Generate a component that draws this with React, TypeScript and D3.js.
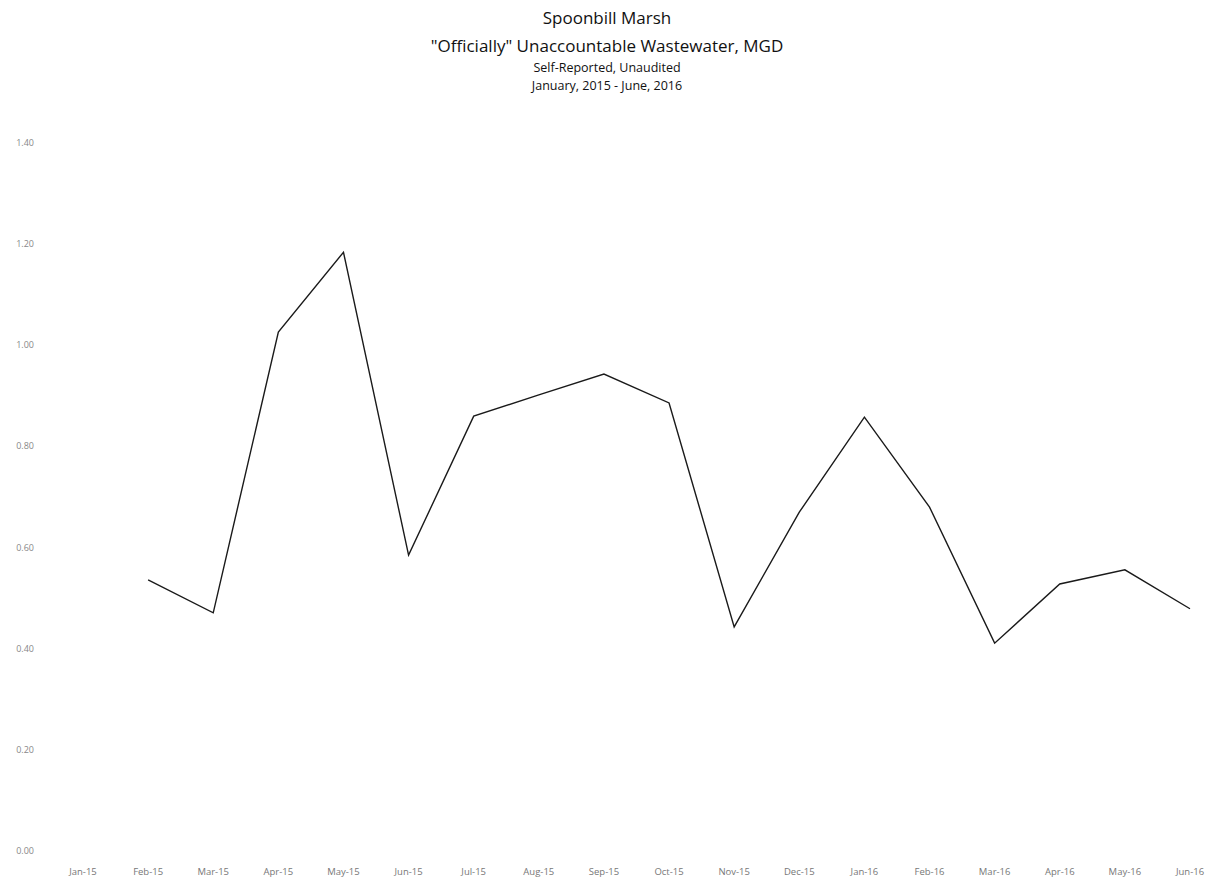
import React, { useEffect, useRef } from 'react'
import * as d3 from 'd3'

const months = ['Jan-15', 'Feb-15', 'Mar-15', 'Apr-15', 'May-15', 'Jun-15', 'Jul-15', 'Aug-15', 'Sep-15',
  'Oct-15', 'Nov-15', 'Dec-15', 'Jan-16', 'Feb-16', 'Mar-16', 'Apr-16', 'May-16', 'Jun-16']
// Jan-15 has no reported value
const mgd = [null, 0.536, 0.471, 1.026, 1.184, 0.585, 0.86, 0.902, 0.943,
  0.886, 0.443, 0.67, 0.858, 0.68, 0.411, 0.528, 0.556, 0.479]
const yTicks = [0, 0.2, 0.4, 0.6, 0.8, 1.0, 1.2, 1.4]
const titles = ['Spoonbill Marsh', '"Officially" Unaccountable Wastewater, MGD', 'Self-Reported, Unaudited', 'January, 2015 - June, 2016']

const W = 1215
const H = 888

export default function App() {
  const ref = useRef<SVGSVGElement>(null)

  useEffect(() => {
    const svg = d3.select(ref.current)
    svg.selectAll('*').remove()

    const font = '"Open Sans", "Liberation Sans", sans-serif'

    // titles
    const titleSizes = [17, 17, 12.5, 12.5]
    const titleY = [24, 52, 72, 90]
    svg.append('g')
      .selectAll('text')
      .data(titles)
      .enter()
      .append('text')
      .attr('x', 607)
      .attr('y', (d, i) => titleY[i])
      .attr('text-anchor', 'middle')
      .style('font-family', font)
      .style('font-size', (d, i) => titleSizes[i] + 'px')
      .style('fill', '#111')
      .text(d => d)

    const xScale = d3.scalePoint<string>()
      .domain(months)
      .range([83, 1190])

    const yScale = d3.scaleLinear()
      .domain([0, 1.4])
      .range([851, 143])

    // y labels, no axis line
    svg.append('g')
      .selectAll('text')
      .data(yTicks)
      .enter()
      .append('text')
      .attr('x', 34)
      .attr('y', d => yScale(d) + 3)
      .attr('text-anchor', 'end')
      .style('font-family', font)
      .style('font-size', '9px')
      .style('fill', '#888')
      .text(d => d3.format('.2f')(d))

    // x labels
    svg.append('g')
      .selectAll('text')
      .data(months)
      .enter()
      .append('text')
      .attr('x', d => xScale(d)!)
      .attr('y', 875)
      .attr('text-anchor', 'middle')
      .style('font-family', font)
      .style('font-size', '9.5px')
      .style('fill', '#777')
      .text(d => d)

    const line = d3.line<number | null>()
      .defined(d => d != null)
      .x((d, i) => xScale(months[i])!)
      .y(d => yScale(d as number))

    svg.append('path')
      .datum(mgd)
      .attr('d', line)
      .attr('fill', 'none')
      .attr('stroke', '#1a1a1a')
      .attr('stroke-width', 1.4)
      .attr('stroke-linejoin', 'miter')
  }, [])

  return (
    <div style={{ position: 'absolute', left: 0, top: 0 }}>
      <svg ref={ref} width={W} height={H} style={{ display: 'block', background: '#fff' }}></svg>
    </div>
  )
}
